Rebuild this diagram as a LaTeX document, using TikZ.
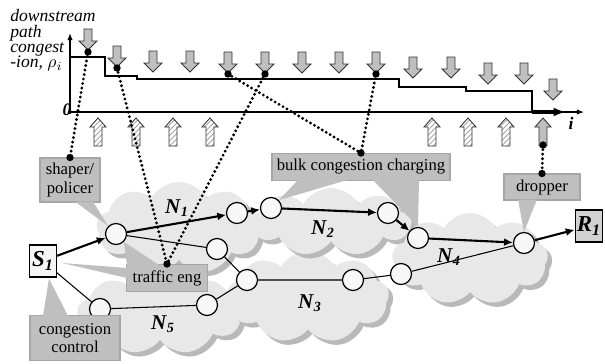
\documentclass[tikz,border=0pt]{standalone}
\usepackage{fontspec}
\setmainfont{Liberation Serif}
\usepackage{amsmath}
\usepackage{xcolor}
\usepackage{tikz}
\usetikzlibrary{calc}
\usetikzlibrary{shapes.symbols}
\usetikzlibrary{shadows}
\usetikzlibrary{patterns}
\usetikzlibrary{arrows.meta}
\NewDocumentCommand{\netname}{mm}{%
\textbf{\textit{#1}\textsubscript{\textit{#2}}}%
}

\begin{document}
\begin{tikzpicture}[
x=0.02cm, y=-0.02cm,
netcloud/.style={cloud, cloud puffs=9, cloud puff arc=120, cloud ignores aspect, fill=gray!18, draw=none, drop shadow={fill=gray!55, shadow xshift=2.5pt, shadow yshift=-2.5pt, opacity=1}},
routernode/.style={circle, draw, fill=gray!6, line width=0.7pt, minimum size=0.42cm, inner sep=0pt},
hostnode/.style={rectangle, draw, line width=0.7pt, minimum width=0.54cm, minimum height=0.64cm, inner sep=1pt, font=\fontsize{13}{13}\selectfont},
calloutbox/.style={rectangle, fill=gray!50, draw=gray!70, line width=0.6pt, align=center, inner sep=2pt, font=\rmfamily\fontsize{9.5}{10.5}\selectfont},
wedge/.style={fill=gray!50},
netlabel/.style={font=\fontsize{12}{12}\selectfont},
flowarrow/.style={line width=1.2pt, -{Latex[length=5pt,width=4.5pt]}},
pathline/.style={line width=0.6pt},
dottedlink/.style={line width=1.8pt, line cap=round, dash pattern=on 0pt off 2.6pt},
markdot/.style={circle, fill, inner sep=0pt, minimum size=4.2pt},
axisline/.style={line width=0.6pt, -{Latex[length=4pt,width=3pt]}},
blockarrow/.style={fill=gray!50, draw=gray!40!black, line width=0.5pt},
hatcharrow/.style={preaction={fill=white}, pattern=north east lines, pattern color=gray!80, draw=gray!40!black, line width=0.5pt},
dnarrow/.pic={\path[blockarrow] (-4,0) -- (-4,12) -- (-9,12) -- (0,21) -- (9,12) -- (4,12) -- (4,0) -- cycle;},
uparrow/.pic={\path[#1] (0,0) -- (8,9) -- (4,9) -- (4,28) -- (-4,28) -- (-4,9) -- (-8,9) -- cycle;},
]
\useasboundingbox (0,0) rectangle (605,363);

%Clouds
\node[netcloud, minimum width=3.3cm, minimum height=1.66cm] (cN5) at (160,313) {};
\node[netcloud, minimum width=3.3cm, minimum height=1.84cm] (cN1) at (179,228) {};
\node[netcloud, minimum width=3.24cm, minimum height=1.84cm] (cN3) at (308,297) {};
\node[netcloud, minimum width=3.2cm, minimum height=1.36cm] (cN2) at (331,222) {};
\node[netcloud, minimum width=3.12cm, minimum height=1.84cm] (cN4) at (470,259) {};

\node[netlabel] (lN1) at (177,208) {\netname{N}{1}};
\node[netlabel] (lN2) at (323,229) {\netname{N}{2}};
\node[netlabel] (lN3) at (310,303) {\netname{N}{3}};
\node[netlabel] (lN4) at (449,257) {\netname{N}{4}};
\node[netlabel] (lN5) at (163,324) {\netname{N}{5}};

%Nodes
\node[hostnode, fill=gray!8]	(S1)	at (43,261)	{\netname{S}{1}};
\node[hostnode, fill=gray!35]	(R1)	at (589,226)	{\netname{R}{1}};
\node[routernode]	(n1in)	at (116,234)	{};
\node[routernode]	(n1out)	at (237,213)	{};
\node[routernode]	(n2in)	at (271,208)	{};
\node[routernode]	(n2out)	at (388,213)	{};
\node[routernode]	(n4in)	at (418,238)	{};
\node[routernode]	(n4out)	at (524,243)	{};
\node[routernode]	(n1low)	at (217,249)	{};
\node[routernode]	(n3in)	at (247,280)	{};
\node[routernode]	(n3out)	at (353,280)	{};
\node[routernode]	(n4low)	at (401,274)	{};
\node[routernode]	(n5out)	at (207,305)	{};
\node[routernode]	(n5in)	at (100,309)	{};

%Lines
\draw[flowarrow] (S1) -- (n1in);
\draw[flowarrow] (n1in) -- (n1out);
\draw[flowarrow] (n1out) -- (n2in);
\draw[flowarrow] (n2in) -- (n2out);
\draw[flowarrow] (n2out) -- (n4in);
\draw[flowarrow] (n4in) -- (n4out);
\draw[flowarrow] (n4out) -- (R1);
\draw[pathline] (n1in) -- (n1low) -- (n3in) -- (n3out) -- (n4low) -- (n4out);
\draw[pathline] (S1) -- (n5in) -- (n5out) -- (n3in);

%Callouts
\node[calloutbox, minimum width=1.2cm, minimum height=0.88cm]	(shaper)	at (70,180)	{shaper/\\policer};
\node[calloutbox, minimum width=1.62cm, minimum height=0.54cm]	(trafeng)	at (167,278)	{traffic eng};
\node[calloutbox, minimum width=1.8cm, minimum height=0.9cm]	(congctl)	at (75,338)	{congestion\\control};
\node[calloutbox, minimum width=3.56cm, minimum height=0.54cm]	(bulk)	at (361,167)	{bulk congestion charging};
\node[calloutbox, minimum width=1.52cm, minimum height=0.52cm]	(dropper)	at (542,187)	{dropper};

\fill[wedge] ($(shaper.south)+(5,-1)$) -- (n1in.north west) -- ($(shaper.south)+(23,-1)$) -- cycle;
\fill[wedge] ($(trafeng.north)+(-40,1)$) -- (n1in.south east) -- ($(trafeng.north)+(-8,1)$) -- cycle;
\fill[wedge] ($(trafeng.west)+(1,-10)$) -- ($(S1.east)+(5,2)$) -- ($(trafeng.west)+(1,0)$) -- cycle;
\fill[wedge] ($(congctl.north)+(-32,1)$) -- ($(S1.south)+(6,1)$) -- ($(congctl.north)+(-7,1)$) -- cycle;
\fill[wedge] ($(bulk.south)+(-63,-1)$) -- (n2in.north east) -- ($(bulk.south)+(-14,-1)$) -- cycle;
\fill[wedge] ($(bulk.south)+(12,-1)$) -- (n4in.north) -- ($(bulk.south)+(58,-1)$) -- cycle;
\fill[wedge] ($(dropper.south)+(-24,-1)$) -- (n4out.north) -- ($(dropper.south)+(-5,-1)$) -- cycle;

%Chart
\coordinate (origin) at (70,114);
\coordinate (ytop) at (70,33);
\coordinate (xend) at (584,112);
\draw[axisline] (origin) -- (ytop);
\draw[axisline] (68,112) -- (xend);
\node[font=\bfseries\itshape] (zero) at (67,110) {0};
\node[font=\bfseries\itshape] (ilabel) at (571,123) {i};
\node[font=\itshape\fontsize{10}{8.8}\selectfont, align=left, anchor=north west, inner sep=0pt] (ylabel) at (10,9) {downstream\\path\\congest\\-ion, $\rho_i$};

\draw[line width=1.3pt] (71,57) -| (105,76) -| (137,79) -| (399,87) -| (466,91) -| (532,112);
\draw[line width=2pt, -{Latex[length=7pt,width=5pt]}] (532,112) -- (566,112);

\foreach \ax/\ay in {88/29, 117/46, 153/51, 190/51, 228/52, 265/52, 302/52, 339/52, 376/52, 413/57, 451/57, 488/63, 524/63, 553/79}
  \pic at (\ax,\ay) {dnarrow};
\foreach \ax in {98,136,173,210,432,468,506}
  \pic at (\ax,118) {uparrow=hatcharrow};
\pic at (543,118) {uparrow=blockarrow};

%Congestion marks
\node[markdot] (m1) at (88,52) {};
\node[markdot] (m2) at (117,68) {};
\node[markdot] (m5) at (228,74) {};
\node[markdot] (m6) at (265,74) {};
\node[markdot] (m9) at (376,74) {};
\node[markdot] (mdrop) at (543,145) {};
\node[markdot] (dshaper) at (shaper.north) {};
\node[markdot] (dtraf) at (trafeng.north) {};
\node[markdot] (dbulk) at (bulk.north) {};
\node[markdot] (ddrop) at (dropper.north) {};

\draw[dottedlink] (m1.center) -- (dshaper.center);
\draw[dottedlink] (m2.center) -- (dtraf.center);
\draw[dottedlink] (m6.center) -- (dtraf.center);
\draw[dottedlink] (m5.center) -- (dbulk.center);
\draw[dottedlink] (m9.center) -- (dbulk.center);
\draw[dottedlink] (mdrop.center) -- (ddrop.center);
\end{tikzpicture}
\end{document}
